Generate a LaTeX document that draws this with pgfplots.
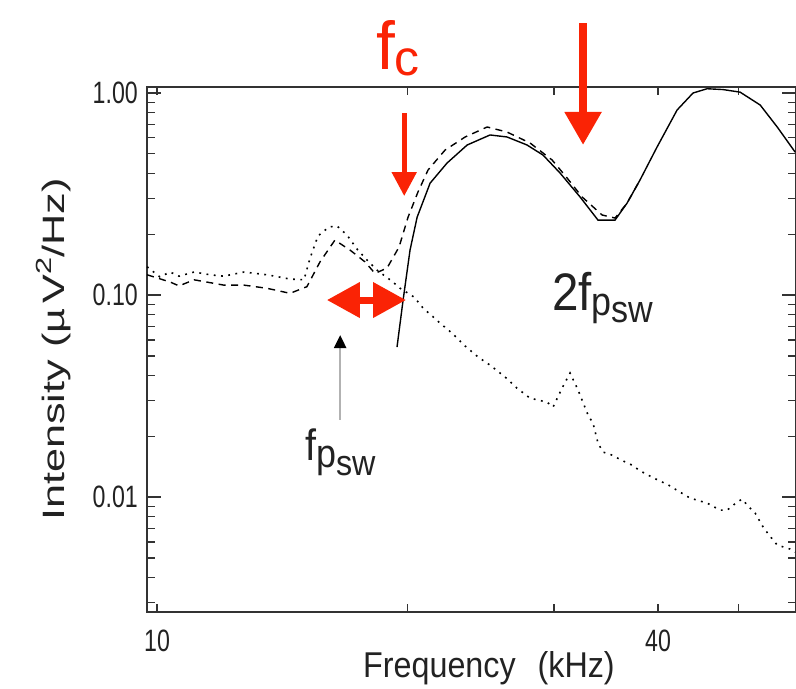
\documentclass[border=0pt]{standalone}
\usepackage{pgfplots}
\pgfplotsset{compat=1.18}
\usetikzlibrary{arrows.meta}
\usepackage{fontspec}
\setmainfont{Liberation Sans}
\newfontfamily\tickfont{Liberation Sans}[FakeStretch=0.75]
\newfontfamily\labfont{Liberation Sans}[FakeStretch=0.9]
\newfontfamily\ylabfont{Liberation Sans}[FakeStretch=1.4]
\newfontfamily\redfont{Liberation Sans}
\definecolor{annred}{RGB}{250,35,5}
\definecolor{ink}{RGB}{34,34,34}

\begin{document}
\begin{tikzpicture}
\begin{axis}[
  scale only axis,
  width=649bp, height=525bp,
  xmode=log, ymode=log,
  xmin=9.727, xmax=58.6,
  ymin=0.0027, ymax=1.071,
  clip=false,
  axis line style={line width=1.6bp, black!80},
  every tick/.style={line width=1.3bp, black!80},
  major tick length=14bp,
  minor tick length=8bp,
  xtick={10,40}, xticklabels={10,40},
  minor xtick={10,20,30,40,50},
  every major x tick/.style={draw=none},
  ytick={0.01,0.1,1}, yticklabels={0.01,0.10,1.00},
  minor ytick={0.003,0.004,0.005,0.006,0.007,0.008,0.009,0.02,0.03,0.04,0.05,0.06,0.07,0.08,0.09,0.2,0.3,0.4,0.5,0.6,0.7,0.8,0.9},
  xticklabel style={font=\tickfont\fontsize{31}{31}\selectfont, text=ink, anchor=north, inner sep=0pt, yshift=-18bp},
  yticklabel style={font=\tickfont\fontsize{31}{31}\selectfont, text=ink, anchor=east, inner sep=0pt, xshift=-9bp},
  xlabel={Frequency\hspace{22bp}(kHz)},
  xlabel style={font=\labfont\fontsize{36}{36}\selectfont, text=ink, at={(axis description cs:0.3328,0)}, anchor=base west, inner sep=0pt, yshift=-66bp},
  ylabel={Intensity (µ\,V\raisebox{0.42em}{\fontsize{22}{22}\selectfont 2}/Hz)},
  ylabel style={font=\ylabfont\fontsize{31}{31}\selectfont, text=ink, at={(axis description cs:-0.1433,0.5)}, anchor=center, inner sep=0pt},
]
% dotted spectrum
\addplot[black, line width=1.6bp, dash pattern=on 1.8bp off 5.5bp] coordinates {
(9.73,0.138) (10.08,0.123) (10.37,0.130) (10.63,0.124) (11.08,0.130) (11.58,0.126) (12.03,0.124) (12.72,0.130) (13.56,0.126) (14.45,0.120) (15.02,0.119) (15.27,0.152) (15.61,0.196) (16.09,0.217) (16.45,0.220) (16.92,0.198) (17.39,0.169) (17.88,0.149) (18.38,0.133) (19.16,0.117) (19.60,0.108) (20.37,0.0977) (20.88,0.0862) (21.35,0.0796) (21.88,0.0727) (22.62,0.0648) (23.39,0.0565) (24.32,0.0493) (25.13,0.0450) (26.20,0.0393) (27.08,0.0346) (28.07,0.0309) (29.43,0.0295) (29.92,0.0279) (30.67,0.0346) (31.36,0.0411) (32.06,0.0339) (32.96,0.0255) (33.42,0.0232) (33.88,0.0185) (34.36,0.0167) (35.04,0.0163) (36.32,0.0151) (37.23,0.0144) (38.06,0.0135) (39.57,0.0124) (41.14,0.0115) (42.17,0.0108) (43.71,0.00989) (45.82,0.00934) (47.50,0.00862) (48.43,0.00862) (49.79,0.00945) (50.48,0.00977) (51.32,0.00903) (52.34,0.00833) (53.51,0.00710) (54.41,0.00648) (55.63,0.00579) (57.66,0.00553) (58.46,0.00534)};
% dashed spectrum
\addplot[black, line width=1.4bp, dash pattern=on 7bp off 5.5bp] coordinates {
(9.73,0.126) (10.37,0.116) (10.63,0.111) (11.08,0.119) (12.03,0.112) (12.72,0.112) (13.56,0.108) (14.45,0.102) (15.14,0.110) (15.70,0.146) (16.36,0.187) (17.06,0.167) (17.78,0.146) (18.28,0.128) (18.90,0.136) (19.54,0.173) (20.03,0.243) (20.59,0.324) (21.17,0.416) (22.19,0.522) (23.46,0.606) (24.93,0.679) (26.34,0.641) (28.07,0.566) (29.84,0.466) (31.10,0.380) (32.42,0.306) (34.27,0.249) (35.52,0.2405) (36.72,0.285) (38.06,0.371)};
% solid spectrum
\addplot[black, line width=1.4bp] coordinates {
(19.43,0.0553) (19.76,0.0945) (20.14,0.167) (20.54,0.243) (21.29,0.358) (22.31,0.450) (23.59,0.553) (25.13,0.620) (26.34,0.606) (27.84,0.553) (29.10,0.493) (30.50,0.402) (32.24,0.306) (33.88,0.235) (35.52,0.235) (36.72,0.285) (38.06,0.371) (39.90,0.540) (42.17,0.824) (44.07,1.0) (45.82,1.05) (47.89,1.04) (50.20,1.01) (53.07,0.872) (55.63,0.679) (58.46,0.510)};

% annotations
\draw[annred, line width=7bp, {Triangle[length=33bp,width=34bp]}-{Triangle[length=33bp,width=34bp]}] (axis cs:16.0,0.0945) -- (axis cs:19.92,0.0945);
\draw[annred, line width=5bp, -{Triangle[length=24bp,width=24bp]}] (axis cs:19.82,0.796) -- (axis cs:19.82,0.309);
\draw[annred, line width=8bp, -{Triangle[length=33bp,width=35bp]}] (axis cs:32.51,2.22) -- (axis cs:32.51,0.553);
\draw[gray!60, line width=2.5bp, -{Triangle[length=13bp,width=12bp,color=black]}] (axis cs:16.6,0.0241) -- (axis cs:16.6,0.0634);
\node[anchor=base west, inner sep=0pt, text=annred, font=\redfont\fontsize{68}{68}\selectfont] at (axis cs:18.33,1.30) {f\raisebox{-6bp}{\fontsize{50}{50}\selectfont c}};
\node[anchor=base west, inner sep=0pt, text=ink, font=\labfont\fontsize{44}{44}\selectfont] at (axis cs:15.06,0.01525) {f\raisebox{-7bp}{\fontsize{40}{40}\selectfont p}\raisebox{-15bp}{\fontsize{36}{36}\selectfont sw}};
\node[anchor=base west, inner sep=0pt, text=ink, font=\labfont\fontsize{53}{53}\selectfont] at (axis cs:29.84,0.0843) {2f\raisebox{-5bp}{\fontsize{40}{40}\selectfont p}\raisebox{-12bp}{\fontsize{38}{38}\selectfont sw}};
\end{axis}
\pgfresetboundingbox
\path[use as bounding box] ([xshift=-147bp,yshift=-77bp]current axis.south west) rectangle ([yshift=87bp]current axis.north east);
\end{tikzpicture}
\end{document}
